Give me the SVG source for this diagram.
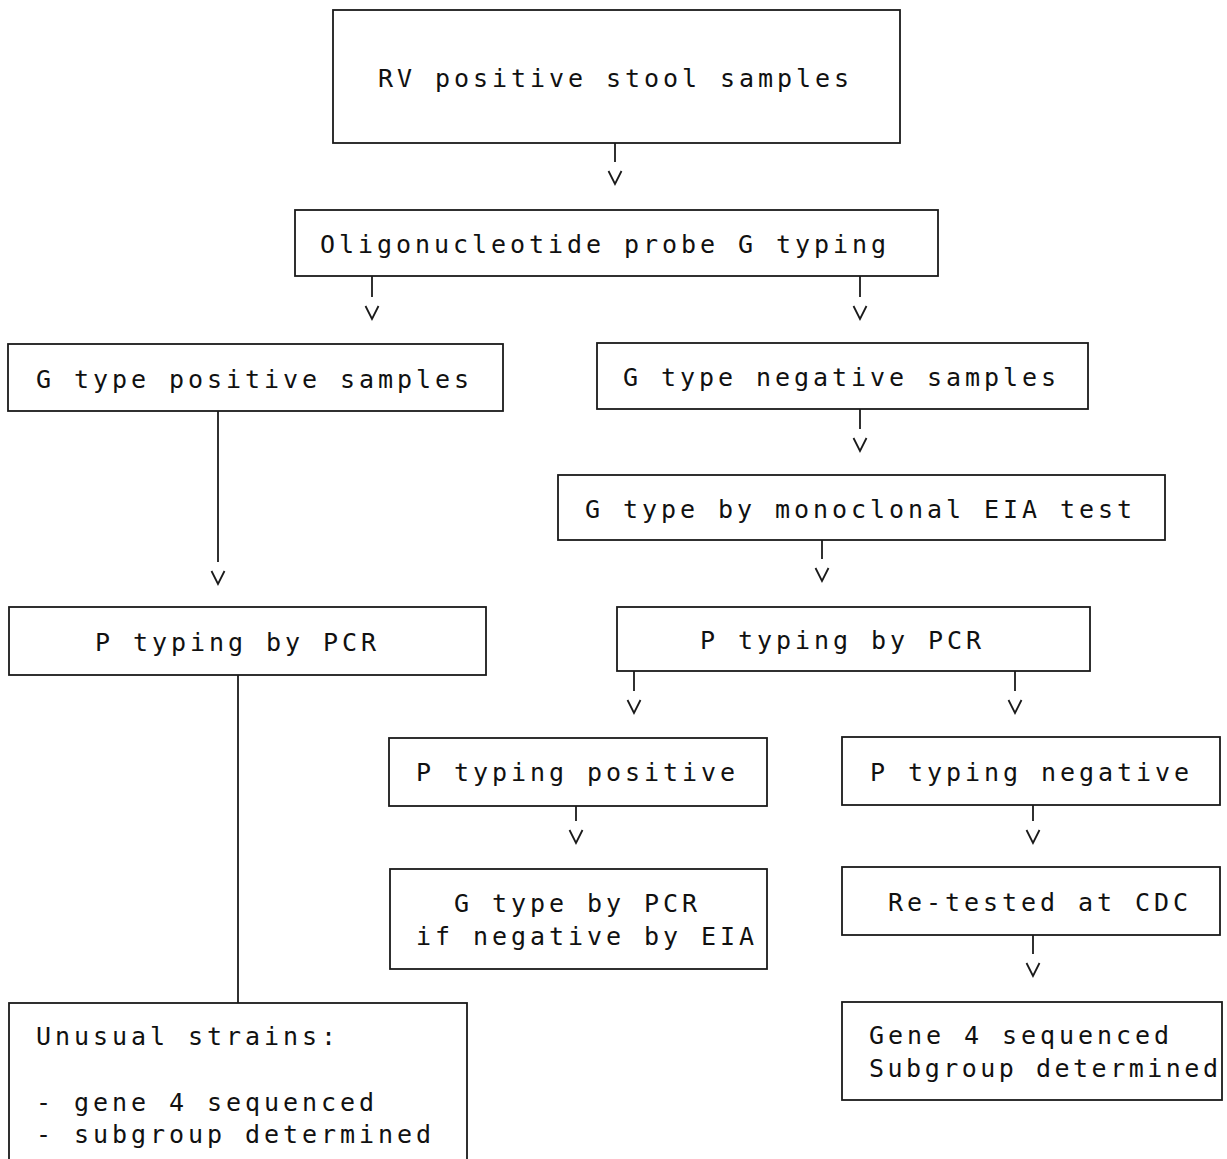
<svg xmlns="http://www.w3.org/2000/svg" width="1227" height="1159" viewBox="0 0 1227 1159">
<defs>
<style>
.box{fill:none;stroke:#1a1a1a;stroke-width:1.8}
.t{font-family:"DejaVu Sans Mono","Liberation Mono",monospace;font-size:25px;letter-spacing:3.95px;fill:#111}
.ln{fill:none;stroke:#1a1a1a;stroke-width:1.8}
</style>
<marker id="v" markerUnits="userSpaceOnUse" markerWidth="20" markerHeight="30" viewBox="-10 0 20 30" refX="0" refY="0" orient="0" overflow="visible">
<polyline points="-6.5,9 0,22 6.5,9" fill="none" stroke="#1a1a1a" stroke-width="1.8"/>
</marker>
</defs>
<rect width="1227" height="1159" fill="#fff"/>
<g id="connectors">
<line class="ln" x1="615" y1="143" x2="615" y2="162" marker-end="url(#v)"/>
<line class="ln" x1="372" y1="276" x2="372" y2="297" marker-end="url(#v)"/>
<line class="ln" x1="860" y1="276" x2="860" y2="297" marker-end="url(#v)"/>
<line class="ln" x1="218" y1="411" x2="218" y2="562" marker-end="url(#v)"/>
<line class="ln" x1="860" y1="409" x2="860" y2="429" marker-end="url(#v)"/>
<line class="ln" x1="822" y1="540" x2="822" y2="559" marker-end="url(#v)"/>
<line class="ln" x1="634" y1="671" x2="634" y2="691" marker-end="url(#v)"/>
<line class="ln" x1="1015" y1="671" x2="1015" y2="691" marker-end="url(#v)"/>
<line class="ln" x1="576" y1="806" x2="576" y2="821" marker-end="url(#v)"/>
<line class="ln" x1="1033" y1="805" x2="1033" y2="821" marker-end="url(#v)"/>
<line class="ln" x1="1033" y1="935" x2="1033" y2="954" marker-end="url(#v)"/>
<line class="ln" x1="238" y1="675" x2="238" y2="1003"/>
</g>
<g id="n1"><rect class="box" x="333" y="10" width="567" height="133"/><text class="t" x="378" y="87">RV positive stool samples</text></g>
<g id="n2"><rect class="box" x="295" y="210" width="643" height="66"/><text class="t" x="320" y="253">Oligonucleotide probe G typing</text></g>
<g id="n3"><rect class="box" x="8" y="344" width="495" height="67"/><text class="t" x="36" y="388">G type positive samples</text></g>
<g id="n4"><rect class="box" x="597" y="343" width="491" height="66"/><text class="t" x="623" y="386">G type negative samples</text></g>
<g id="n5"><rect class="box" x="558" y="475" width="607" height="65"/><text class="t" x="585" y="518">G type by monoclonal EIA test</text></g>
<g id="n6"><rect class="box" x="617" y="607" width="473" height="64"/><text class="t" x="700" y="649">P typing by PCR</text></g>
<g id="n7"><rect class="box" x="9" y="607" width="477" height="68"/><text class="t" x="95" y="651">P typing by PCR</text></g>
<g id="n8"><rect class="box" x="389" y="738" width="378" height="68"/><text class="t" x="416" y="781">P typing positive</text></g>
<g id="n9"><rect class="box" x="842" y="737" width="378" height="68"/><text class="t" x="870" y="781">P typing negative</text></g>
<g id="n10"><rect class="box" x="390" y="869" width="377" height="100"/><text class="t" x="454" y="912">G type by PCR</text><text class="t" x="416" y="945">if negative by EIA</text></g>
<g id="n11"><rect class="box" x="842" y="867" width="378" height="68"/><text class="t" x="888" y="911">Re-tested at CDC</text></g>
<g id="n12"><rect class="box" x="842" y="1002" width="380" height="98"/><text class="t" x="869" y="1044">Gene 4 sequenced</text><text class="t" x="869" y="1077" style="letter-spacing:3.5px">Subgroup determined</text></g>
<g id="n13"><rect class="box" x="9" y="1003" width="458" height="170"/><text class="t" x="36" y="1045">Unusual strains:</text><text class="t" x="36" y="1111">- gene 4 sequenced</text><text class="t" x="36" y="1143">- subgroup determined</text></g>
</svg>
